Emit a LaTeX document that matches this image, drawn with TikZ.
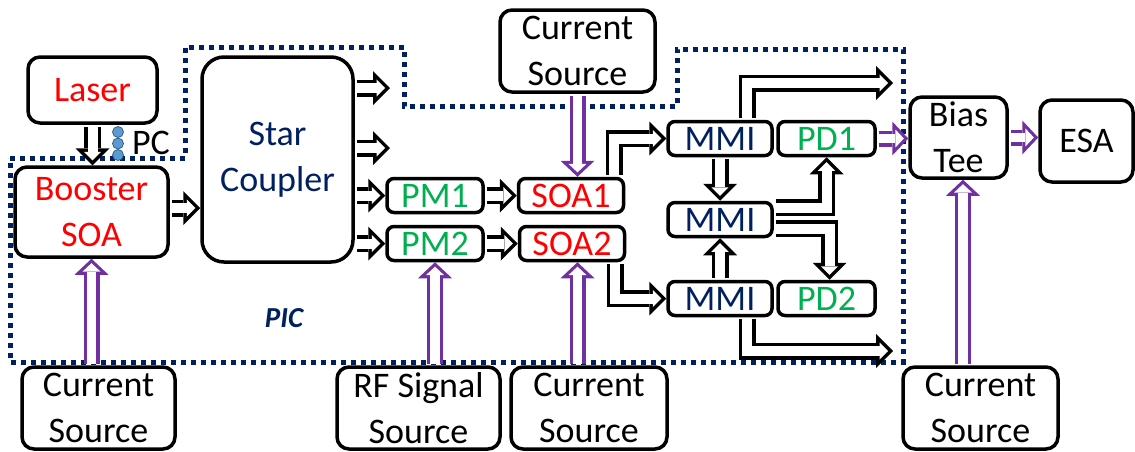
\documentclass[tikz,border=0pt]{standalone}
\usepackage{fontspec}
\setmainfont{Carlito}
\usepackage{tikz}
\usetikzlibrary{arrows.meta}
\definecolor{navy}{RGB}{0,32,96}
\definecolor{sred}{RGB}{255,0,0}
\definecolor{sgreen}{RGB}{0,176,80}
\definecolor{purp}{RGB}{112,48,160}
\definecolor{pcblue}{RGB}{91,155,213}

\tikzset{
  box/.style={draw, line width=3.5pt, rounded corners=12pt, inner sep=0pt, align=center,
    font=\fontsize{36}{46}\selectfont},
  sbox/.style={box, rounded corners=7pt, minimum height=34pt},
  blk/.style={line width=17pt, line join=miter, shorten <=1.75pt,
    -{Triangle[length=17pt,width=34pt,line width=0pt]},
    postaction={draw=white, line width=10pt, shorten >=4.95pt,
      -{Triangle[length=8.55pt,width=17.1pt,line width=0pt]}}},
  prp/.style={draw=purp, line width=16pt, line join=miter, shorten <=1.75pt,
    -{Triangle[length=16pt,width=34pt,line width=0pt]},
    postaction={draw=white, line width=9.6pt, shorten >=4.4pt,
      -{Triangle[length=8.4pt,width=17.9pt,line width=0pt]}}}
}

\begin{document}
\begin{tikzpicture}[x=1pt,y=-1pt]
\useasboundingbox (0,0) rectangle (1135,451);

\draw[navy, line width=5pt, dash pattern=on 5pt off 5pt]
  (10,158) -- (185,158) -- (185,47) -- (404,47) -- (404,106) -- (677,106)
  -- (677,49) -- (903,49) -- (903,362) -- (10,362) -- cycle;
\node[font=\fontsize{29}{34}\selectfont\bfseries\itshape, text=navy] (pic) at (284,318) {PIC};

\node[box, text=sred, minimum width=129pt, minimum height=66pt] (laser) at (92.5,90) {Laser};
\node[box, text=sred, minimum width=153pt, minimum height=90pt] (booster) at (91.5,212) {Booster\\SOA};
\node[box, text=navy, minimum width=151pt, minimum height=205pt, rounded corners=22pt] (star) at (277.5,159.5) {Star\\Coupler};
\node[box, minimum width=155pt, minimum height=82pt] (srcsoa1) at (577.5,51) {Current\\Source};
\node[sbox, text=sgreen, minimum width=96pt] (pm1) at (435,195.5) {PM1};
\node[sbox, text=sgreen, minimum width=96pt] (pm2) at (435,243.5) {PM2};
\node[sbox, text=sred, minimum width=105pt] (soa1) at (571,195.5) {SOA1};
\node[sbox, text=sred, minimum width=105pt] (soa2) at (572,243.5) {SOA2};
\node[sbox, text=navy, minimum width=104pt] (mmi1) at (720,138.5) {MMI};
\node[sbox, text=navy, minimum width=104pt] (mmi2) at (720,219.5) {MMI};
\node[sbox, text=navy, minimum width=104pt] (mmi3) at (720,298.5) {MMI};
\node[sbox, text=sgreen, minimum width=97pt] (pd1) at (826.5,138.5) {PD1};
\node[sbox, text=sgreen, minimum width=97pt] (pd2) at (826.5,298.5) {PD2};
\node[box, minimum width=97pt, minimum height=81pt] (bias) at (958.5,137.5) {Bias\\Tee};
\node[box, minimum width=93pt, minimum height=82pt] (esa) at (1086.5,141) {ESA};
\node[box, minimum width=153pt, minimum height=82pt] (srcboost) at (98.5,408) {Current\\Source};
\node[box, minimum width=163pt, minimum height=82pt] (rf) at (418.5,408) {RF Signal\\Source};
\node[box, minimum width=156pt, minimum height=82pt] (srcsoa2) at (589,408) {Current\\Source};
\node[box, minimum width=155pt, minimum height=82pt] (srcbias) at (980.5,408) {Current\\Source};

\foreach \y in {132,143.5,155}
  \draw[fill=pcblue, draw=pcblue!60!black, line width=0.8pt] (118,\y) circle[radius=5.5];
\node[font=\fontsize{36}{46}\selectfont] (pc) at (151,143) {PC};

\coordinate (so1) at (390,88);
\coordinate (so2) at (390,148);
\coordinate (out1) at (893,83);
\coordinate (out2) at (893,351);

\draw[blk] (laser.south) -- (laser.south |- booster.north);
\draw[blk] ([yshift=4pt]booster.east) -- ([yshift=4pt]booster.east -| star.west);
\draw[blk] (star.east |- so1) -- (so1);
\draw[blk] (star.east |- so2) -- (so2);
\draw[blk] (star.east |- pm1.west) -- (pm1.west);
\draw[blk] (star.east |- pm2.west) -- (pm2.west);
\draw[blk] (pm1) -- (soa1);
\draw[blk] (pm2) -- (soa2);
\draw[blk] ([xshift=-11pt]soa1.north east) |- (mmi1.west);
\draw[blk] ([xshift=-11pt]soa2.south east) |- (mmi3.west);
\draw[blk] (mmi1) -- (mmi2);
\draw[blk] (mmi3) -- (mmi2);
\draw[blk] ([yshift=12pt]mmi2.east) -| (pd1.south);
\draw[blk] ([yshift=-9pt]mmi2.east) -| ([xshift=3pt]pd2.north);
\draw[blk] ([xshift=27pt]mmi1.north) |- (out1);
\draw[blk] ([xshift=27pt]mmi3.south) |- (out2);

\draw[prp] (srcsoa1.south) -- (srcsoa1.south |- soa1.north);
\draw[prp] (srcboost.north -| booster.south) -- (booster.south);
\draw[prp] (rf.north -| pm2.south) -- (pm2.south);
\draw[prp] (srcsoa2.north -| srcsoa1.south) -- (srcsoa1.south |- soa2.south);
\draw[prp] ([xshift=4.5pt]bias.south |- srcbias.north) -- ([xshift=4.5pt]bias.south);
\draw[prp] (pd1.east) -- (pd1.east -| bias.west);
\draw[prp] (bias.east) -- (bias.east -| esa.west);
\end{tikzpicture}
\end{document}
